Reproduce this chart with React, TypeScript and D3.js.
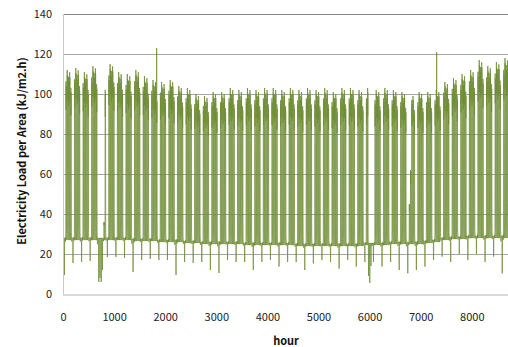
import React, { useEffect, useRef } from 'react';
import * as d3 from 'd3';

const W = 508;
const H = 347;

// one entry per week, weeks start on a Saturday (week 0 = hours 0-167)
const weekPeak = [
  112, 113, 111, 114, 111, 115, 111, 110, 112, 109,
  107, 106, 107, 104, 103, 100, 99, 101, 101, 103,
  102, 103, 102, 103, 103, 102, 103, 102, 103, 102,
  103, 101, 103, 103, 102, 103, 102, 103, 102, 101,
  100, 101, 101, 102, 106, 108, 110, 112, 117, 114,
  116, 118, 120,
];
const weekBase = [
  27, 27, 27, 27, 27, 27, 27, 27, 26.5, 26.5,
  26.5, 26, 26, 26, 25.5, 25.5, 25, 25, 25, 25,
  25, 24.5, 24.5, 24.5, 24.5, 24.5, 24.5, 24, 24, 24,
  24, 24, 24, 24, 24, 24.5, 24.5, 24.5, 25, 25,
  25, 25, 25.5, 26, 27, 27.5, 27.5, 28, 28, 28,
  28, 28, 28,
];
const weekendLow = [
  9, 15.5, 16, 16.5, 6, 18.5, 18.5, 18, 11, 17,
  17.5, 17, 17, 9.5, 16, 15.5, 16, 12, 10.5, 17,
  16, 16, 12, 16, 17, 13.7, 16, 16, 12, 15.3,
  17, 16, 12.7, 17, 13.7, 16, 16, 13.7, 16, 12,
  10.3, 12, 13.7, 17, 18.7, 16, 20, 17, 20, 16,
  18.7, 10.3, 18,
];

// peak of each working day (Mon..Fri) relative to the week's peak
const weekdayFactor = [0.95, 1.0, 0.97, 0.99, 0.92];

// share of (peak - base) reached in each hour of a working day
const weekdayShape = [
  0.02, 0, 0, 0, 0, 0, 0, 0.2, 0.7, 0.93, 1, 0.96,
  0.82, 0.92, 0.97, 0.94, 0.9, 0.75, 0.4, 0.15, 0.07, 0.05, 0.04, 0.03,
];
// Saturday then Sunday: share of (day level - low)
const weekendShape = [
  0.95, 0.9, 0.88, 0.86, 0.86, 0.88, 0.92, 1, 1, 1, 1, 1,
  1, 1, 1, 1, 1, 1, 1, 1, 0.98, 0.96, 0.95, 0.93,
  0.85, 0.65, 0.4, 0.15, 0, 0.2, 0.5, 0.8, 1, 1, 1, 1,
  1, 1, 1, 1, 1, 1, 1, 1, 0.97, 0.95, 0.93, 0.9,
];
const holidays = [
  { day: 0, low: 9 }, { day: 1, low: 9.5 },
  { day: 30, low: 8 }, { day: 31, low: 6 }, { day: 32, low: 12 },
  { day: 249, low: 9 }, { day: 250, low: 5.5 }, { day: 251, low: 14 },
];
const reducedDays = [
  { day: 33, peak: 36 },
  { day: 282, peak: 45 },
  { day: 283, peak: 62 },
];
const spikes = [
  { hour: 1833, value: 123 },
  { hour: 7313, value: 121 },
];

const xTicks = [0, 1000, 2000, 3000, 4000, 5000, 6000, 7000, 8000];
const yTicks = [0, 20, 40, 60, 80, 100, 120, 140];

const font = '"Noto Sans CJK KR", "Noto Sans", sans-serif';

function buildHours() {
  const pts: { h: number; v: number }[] = [];
  for (let d = 0; d < 365; d++) {
    const w = Math.floor(d / 7);
    const dow = d % 7; // 0 Sat, 1 Sun, 2..6 working days
    const hol = holidays.find((o) => o.day === d);
    const red = reducedDays.find((o) => o.day === d);
    for (let h = 0; h < 24; h++) {
      let v;
      if (dow < 2 || hol) {
        const low = hol ? hol.low : weekendLow[w];
        const top = weekBase[w] + 1;
        const s = weekendShape[(hol ? 24 : dow * 24) + h];
        v = low + (top - low) * s;
      } else {
        const peak = red ? red.peak : weekPeak[w] * weekdayFactor[dow - 2];
        v = weekBase[w] + (peak - weekBase[w]) * weekdayShape[h];
      }
      pts.push({ h: d * 24 + h, v });
    }
  }
  spikes.forEach((s) => {
    pts[s.hour].v = s.value;
  });
  return pts;
}

const Chart = () => {
  const ref = useRef<SVGSVGElement>(null);

  useEffect(() => {
    const svg = d3.select(ref.current);
    svg.selectAll('*').remove();

    const left = 63;
    const right = 510.6;
    const top = 14;
    const bottom = 294;

    const x = d3.scaleLinear().domain([0, 8760]).range([left, right]);
    const y = d3.scaleLinear().domain([0, 140]).range([bottom, top]);

    // gridlines
    svg
      .append('g')
      .selectAll('line')
      .data(yTicks.filter((t) => t > 0))
      .enter()
      .append('line')
      .attr('x1', left)
      .attr('x2', W)
      .attr('y1', (d) => Math.round(y(d)) + 0.5)
      .attr('y2', (d) => Math.round(y(d)) + 0.5)
      .attr('stroke', (d) => (d === 140 ? '#868686' : '#a6a6a6'))
      .attr('stroke-width', 1);

    svg
      .append('defs')
      .append('clipPath')
      .attr('id', 'plotclip')
      .append('rect')
      .attr('x', left)
      .attr('y', 0)
      .attr('width', W - left)
      .attr('height', bottom);

    const data = buildHours();
    const line = d3
      .line<{ h: number; v: number }>()
      .x((d) => x(d.h))
      .y((d) => y(d.v));

    svg
      .append('path')
      .datum(data)
      .attr('clip-path', 'url(#plotclip)')
      .attr('fill', 'none')
      .attr('stroke', '#6f8c35')
      .attr('stroke-width', 0.75)
      .attr('d', line);

    // axis lines
    svg
      .append('line')
      .attr('x1', left + 0.5)
      .attr('x2', left + 0.5)
      .attr('y1', top)
      .attr('y2', bottom)
      .attr('stroke', '#c8c8c8');
    svg
      .append('line')
      .attr('x1', left)
      .attr('x2', W)
      .attr('y1', bottom + 1)
      .attr('y2', bottom + 1)
      .attr('stroke', '#d9d9d9')
      .attr('stroke-width', 2);

    const yAxis = svg
      .append('g')
      .attr('transform', `translate(${left},0)`)
      .call(d3.axisLeft(y).tickValues(yTicks).tickSize(0).tickPadding(11));
    const xAxis = svg
      .append('g')
      .attr('transform', `translate(0,${bottom})`)
      .call(d3.axisBottom(x).tickValues(xTicks).tickSize(0).tickPadding(19).tickFormat(d3.format('d')));

    [yAxis, xAxis].forEach((g) => {
      g.select('.domain').remove();
      g.selectAll('text')
        .attr('fill', '#222')
        .style('font-family', font)
        .style('font-size', '11px');
    });

    svg
      .append('text')
      .attr('transform', 'translate(21,151) rotate(-90)')
      .attr('text-anchor', 'middle')
      .attr('dominant-baseline', 'central')
      .style('font-family', font)
      .style('font-size', '11px')
      .style('font-weight', 'bold')
      .attr('fill', '#111')
      .text('Electricity Load per Area (kJ/m2.h)');

    svg
      .append('text')
      .attr('x', 286)
      .attr('y', 345)
      .attr('text-anchor', 'middle')
      .style('font-family', font)
      .style('font-size', '11px')
      .style('font-weight', 'bold')
      .attr('fill', '#111')
      .text('hour');
  }, []);

  return (
    <svg
      ref={ref}
      width={W}
      height={H}
      style={{ position: 'absolute', left: 0, top: 0, background: '#fff' }}
    />
  );
};

export default function App() {
  return <Chart />;
}
